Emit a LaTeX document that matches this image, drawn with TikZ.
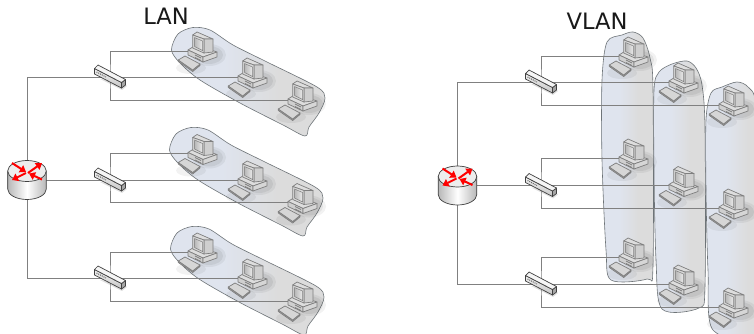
\documentclass[tikz,border=0pt]{standalone}
\usepackage{fontspec}
\setmainfont{DejaVu Sans}
\usetikzlibrary{arrows.meta}
\definecolor{blobA}{HTML}{DFE4EE}
\definecolor{blobB}{HTML}{DCDCDC}
\definecolor{blobline}{HTML}{6E7478}
\definecolor{wire}{HTML}{808080}
\definecolor{pcline}{HTML}{7E7E7E}
\definecolor{pcfill}{HTML}{CFCFCF}
\pgfdeclarehorizontalshading{blobshade}{100bp}{color(0bp)=(blobA); color(42bp)=(blobA); color(60bp)=(blobB); color(100bp)=(blobB)}
\tikzset{
  blob/.style={draw=blobline,line width=0.6pt,shading=blobshade},
  wireline/.style={draw=wire,line width=0.8pt},
  pcpart/.style={draw=pcline,line width=0.7pt,fill=pcfill,line join=round},
  swpart/.style={draw=black!75,line width=0.7pt,line join=round},
  redarrow/.style={draw=red,line width=2pt,-{Triangle[length=6pt,width=8pt]}},
  title/.style={font=\fontsize{22.6}{26}\selectfont,text=black!90,inner sep=0pt}
}
\newcommand{\pcat}[1]{%
\begin{scope}[shift={(#1)}]
  \fill[black,opacity=.05] (21,4) ellipse (17 and 11);
  \fill[black,opacity=.06] (21,4) ellipse (14 and 9);
  \fill[black,opacity=.05] (3,17) ellipse (15 and 6);
  % base
  \path[pcpart,fill=pcfill!70!white] (0,-1) -- (8,-6) -- (29,1) -- (15,6) -- cycle;
  \path[pcpart,fill=pcfill] (0,-1) -- (15,6) -- (15,11) -- (0,4) -- cycle;
  \path[pcpart,fill=pcfill!85!white] (15,6) -- (29,1) -- (29,6) -- (15,11) -- cycle;
  \draw[pcline,line width=0.7pt] (7,4) -- (13,7) (7,6.5) -- (13,9.5);
  % monitor
  \path[pcpart,fill=pcfill!70!white] (4.7,-16) -- (9,-19) -- (25,-12) -- (16,-12) -- cycle;
  \path[pcpart,fill=pcfill] (16,-12) -- (25,-12) -- (25,1) -- (16,2) -- cycle;
  \path[pcpart,fill=pcfill!80!white] (4.7,-16) -- (16,-12) -- (16,2) -- (4.7,-3) -- cycle;
  \path[draw=pcline,line width=0.5pt,left color=black!28,right color=black!8] (6.5,-13.5) -- (14.5,-10) -- (14.5,-0.5) -- (6.5,-4.5) -- cycle;
  % keyboard
  \path[pcpart,fill=black!28] (-9.7,10.5) -- (4.7,20.5) -- (12,14.5) -- (12,13) -- (4.7,19) -- (-9.7,9) -- cycle;
  \path[pcpart,fill=black!16] (-9.7,9) -- (-3,5) -- (12,13) -- (4.7,19) -- cycle;
\end{scope}}
\newcommand{\switchat}[1]{%
\begin{scope}[shift={(#1)}]
  \fill[black,opacity=.12] (-10,2) -- (12,13) -- (17,9) -- (10,4) -- cycle;
  \path[swpart,top color=black!6,bottom color=black!22] (-15.5,-8.5) -- (11.5,5.5) -- (11.5,11) -- (-15.5,-3) -- cycle;
  \path[swpart,fill=black!35] (11.5,5.5) -- (15.5,2.5) -- (15.5,8) -- (11.5,11) -- cycle;
  \path[swpart,fill=black!4] (-15.5,-8.5) -- (-12,-12) -- (15.5,2.5) -- (11.5,5.5) -- cycle;
  \draw[black!60,line width=1pt,dash pattern=on 1pt off 1pt] (-13.5,-5) -- (-4,0);
\end{scope}}
\newcommand{\routerat}[1]{%
\begin{scope}[shift={(#1)},yshift=9pt]
  \path[swpart,left color=black!28,right color=black!28,middle color=white]
    (-19.3,0) -- (-19.3,18) arc[start angle=180,end angle=0,x radius=19.3,y radius=10.5] -- (19.3,0) -- cycle;
  \path[swpart,fill=black!7] (0,0) ellipse (19.3 and 10.5);
  \draw[redarrow] (-15,-8) -- (-1,1);
  \draw[redarrow] (1,2) -- (15,-8);
  \draw[redarrow] (-1,2) -- (-15,9);
  \draw[redarrow] (15,8.5) -- (2,2.5);
\end{scope}}
\begin{document}
\begin{tikzpicture}[x=1pt,y=-1pt]
\clip (0,0) rectangle (754,334);
\fill[white] (0,0) rectangle (754,334);
% titles
\node[title] (lantitle) at (166,16.5) {LAN};
\node[title] (vlantitle) at (597,21.5) {VLAN};
% groups
\foreach \dx/\dy in {0/0,-2/100,-1/199}{
  \path[blob,shift={(\dx,\dy)}] plot[smooth cycle,tension=.5] coordinates
   {(171.5,50) (178,34) (193,27.5) (210,30) (233,45) (267,62) (317,87) (325,98) (319,113) (309,127) (305,136) (283,125) (240,103) (200,80) (180,63)};
}
\path[blob] plot[smooth cycle,tension=.5] coordinates
  {(602,80) (607,42) (622,35) (633,32) (643,38) (650,58) (653,90) (653,265) (647,279) (611,280) (606,250) (602,160)};
\path[blob] plot[smooth cycle,tension=.5] coordinates
  {(654,90) (659,72) (672,64) (687,61) (696,68) (702,85) (705,130) (705,285) (699,308) (662,309) (656,260) (654,170)};
\path[blob] plot[smooth cycle,tension=.5] coordinates
  {(706,120) (711,93) (722,87) (737,82) (748,87) (756,105) (760,200) (760,331) (713,330) (708,270) (706,190)};
% coordinates
\coordinate (r1) at (27,180);
\coordinate (s1) at (110,77);
\coordinate (s2) at (110,180);
\coordinate (s3) at (110,278);
\coordinate (a11) at (188,51);
\coordinate (a12) at (238,77);
\coordinate (a13) at (288,100);
\coordinate (a21) at (188,153.5);
\coordinate (a22) at (238,180);
\coordinate (a23) at (288,202.5);
\coordinate (a31) at (188,252);
\coordinate (a32) at (238,278);
\coordinate (a33) at (288,301);
\coordinate (r2) at (457.5,185.5);
\coordinate (t1) at (541,82);
\coordinate (t2) at (541,185.5);
\coordinate (t3) at (541,284);
\coordinate (b11) at (619,56);
\coordinate (b12) at (669,82);
\coordinate (b13) at (719,105);
\coordinate (b21) at (619,158);
\coordinate (b22) at (669,185.5);
\coordinate (b23) at (719,208);
\coordinate (b31) at (619,257);
\coordinate (b32) at (669,284);
\coordinate (b33) at (719,307);
% connectors
\draw[wireline] (s1) -| (r1) -- (s2);
\draw[wireline] (r1) |- (s3);
\foreach \s/\n in {s1/a1,s2/a2,s3/a3,t1/b1,t2/b2,t3/b3}{
  \draw[wireline] (\n1) -| (\s) |- (\n3);
  \draw[wireline] (\s) -- (\n2);
}
\draw[wireline] (t1) -| (r2) -- (t2);
\draw[wireline] (r2) |- (t3);
% devices
\foreach \p in {a11,a12,a13,a21,a22,a23,a31,a32,a33,b11,b12,b13,b21,b22,b23,b31,b32,b33}{\pcat{\p}}
\foreach \p in {s1,s2,s3,t1,t2,t3}{\switchat{\p}}
\routerat{r1}
\routerat{r2}
\end{tikzpicture}
\end{document}
